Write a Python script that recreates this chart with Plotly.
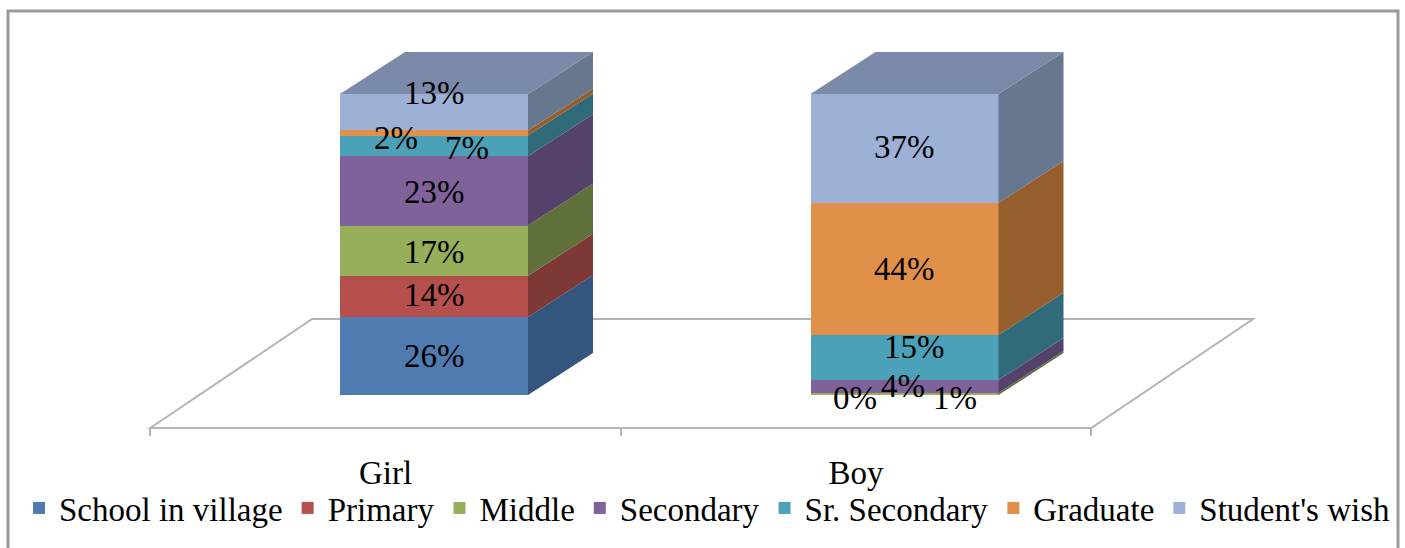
import plotly.graph_objects as go

categories = ["Girl", "Boy"]
series_names = ["School in village", "Primary", "Middle", "Secondary",
                "Sr. Secondary", "Graduate", "Student's wish"]
girl_values = [25.9, 13.7, 16.7, 23.0, 6.9, 1.7, 12.1]
boy_values = [0.0, 0.0, 0.7, 4.3, 15.0, 43.8, 36.2]
girl_labels = ["26%", "14%", "17%", "23%", "7%", "2%", "13%"]
boy_labels = ["0%", "", "1%", "4%", "15%", "44%", "37%"]

front_colors = ["#4F7BB0", "#B5504E", "#97AE5A", "#7F6299", "#4BA2B8", "#E09048", "#9DB0D5"]
side_colors = ["#34567E", "#7E3836", "#60703A", "#54426A", "#316A78", "#975E2E", "#66778F"]
top_color = "#7A8AA8"
grid_color = "#B4B4B4"
FONT = "Liberation Serif"
FONT_SIZE = 33

W, H = 1405, 548
PX_PER_CAT = 470.5
PX_PER_PCT = 3.01
X0_PX, Y0_PX = 385.5, 395.0
x_range = [-X0_PX / PX_PER_CAT, (W - X0_PX) / PX_PER_CAT]
y_range = [(Y0_PX - H) / PX_PER_PCT, Y0_PX / PX_PER_PCT]

BAR_W = 188 / PX_PER_CAT
BAR_SHIFT = 48.5 / PX_PER_CAT
DEPTH_X = 65 / PX_PER_CAT
DEPTH_Y = 42 / PX_PER_PCT
FLOOR_Y = -33 / PX_PER_PCT

values_by_cat = [girl_values, boy_values]
labels_by_cat = [girl_labels, boy_labels]
bar_x = [i + BAR_SHIFT for i in range(len(categories))]

# pixel nudges of the data labels, as placed by hand in the original
girl_nudge = [(0, 0), (0, 1), (0, -1), (0, -1), (33, -2), (-38, -5), (0, 19)]
boy_nudge = [(-50, -3), (0, 0), (50, -4), (-2, 0), (10, 10), (0, 0), (0, 1)]
nudges = [girl_nudge, boy_nudge]

fig = go.Figure()

# front faces
for s, name in enumerate(series_names):
    fig.add_trace(go.Bar(
        x=bar_x, y=[girl_values[s], boy_values[s]], width=BAR_W, name=name,
        marker=dict(color=front_colors[s], line=dict(width=0)), hoverinfo="name+y"))

# side and top faces derived from the stacked values
for s in range(len(series_names)):
    xs, ys = [], []
    for c, vals in enumerate(values_by_cat):
        lo = sum(vals[:s])
        hi = lo + vals[s]
        r = bar_x[c] + BAR_W / 2
        xs += [r, r + DEPTH_X, r + DEPTH_X, r, r, None]
        ys += [lo, lo + DEPTH_Y, hi + DEPTH_Y, hi, lo, None]
    fig.add_trace(go.Scatter(x=xs, y=ys, mode="lines", fill="toself", fillcolor=side_colors[s],
                             line=dict(width=0, color=side_colors[s]),
                             showlegend=False, hoverinfo="skip"))
xs, ys = [], []
for c, vals in enumerate(values_by_cat):
    t = sum(vals)
    l, r = bar_x[c] - BAR_W / 2, bar_x[c] + BAR_W / 2
    xs += [l, r, r + DEPTH_X, l + DEPTH_X, l, None]
    ys += [t, t, t + DEPTH_Y, t + DEPTH_Y, t, None]
fig.add_trace(go.Scatter(x=xs, y=ys, mode="lines", fill="toself", fillcolor=top_color,
                         line=dict(width=0, color=top_color), showlegend=False, hoverinfo="skip"))

# data labels
annotations = []
for c, vals in enumerate(values_by_cat):
    for s, txt in enumerate(labels_by_cat[c]):
        if not txt:
            continue
        dx, dy = nudges[c][s]
        annotations.append(dict(
            x=bar_x[c], y=sum(vals[:s]) + vals[s] / 2, xref="x", yref="y", text=txt,
            showarrow=False, xshift=dx, yshift=dy, font=dict(family=FONT, size=FONT_SIZE, color="#000")))

# floor and outer frame
fl, fr = -0.5, 1.5
floor_dx, floor_dy = 2.49 * DEPTH_X, 2.595 * DEPTH_Y
floor_path = (f"M{fl},{FLOOR_Y} L{fl + floor_dx},{FLOOR_Y + floor_dy} "
              f"L{fr + floor_dx},{FLOOR_Y + floor_dy} L{fr},{FLOOR_Y} Z")
frame = dict(color="#9A9A9A", width=3)
shapes = [
    dict(type="path", path=floor_path, xref="x", yref="y", layer="below",
         line=dict(color=grid_color, width=2)),
    dict(type="path", path=f"M{8 / W},0 L{8 / W},{1 - 11 / H} L{1398 / W},{1 - 11 / H} L{1398 / W},0",
         xref="paper", yref="paper", layer="below", line=frame),
]

fig.update_layout(
    width=W, height=H, margin=dict(l=0, r=0, t=0, b=0),
    paper_bgcolor="white", plot_bgcolor="white", barmode="stack",
    font=dict(family=FONT, size=FONT_SIZE, color="#000"),
    shapes=shapes, annotations=annotations,
    legend=dict(orientation="h", x=19 / W, xanchor="left", y=40 / H, yanchor="middle",
                font=dict(family=FONT, size=FONT_SIZE, color="#000"),
                itemsizing="trace", traceorder="normal", bgcolor="rgba(0,0,0,0)"),
    xaxis=dict(range=x_range, tickvals=[0, 1], ticktext=categories, ticks="", showgrid=False,
               zeroline=False, showline=False, anchor="free", position=(H - 428) / H, side="bottom",
               ticklabelstandoff=22,
               minor=dict(tick0=-0.5, dtick=1, ticks="outside", ticklen=7, tickcolor=grid_color, tickwidth=2,
                          showgrid=False)),
    yaxis=dict(range=y_range, visible=False, showgrid=False, zeroline=False),
)

fig.write_html("out.html", config=dict(displayModeBar=False),
               post_script="document.body.style.margin='0';document.body.style.overflow='hidden';")
